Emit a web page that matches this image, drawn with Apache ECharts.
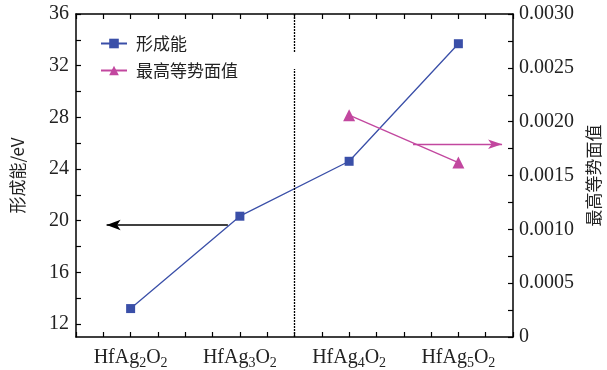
<!DOCTYPE html>
<html>
<head>
<meta charset="utf-8">
<script src="https://cdn.jsdelivr.net/npm/echarts@6/dist/echarts.min.js"></script>
<style>
  html, body { margin: 0; padding: 0; background: #fff; }
  #chart { width: 607px; height: 370px; }
</style>
</head>
<body>
<div id="chart"></div>
<script>
// Compounds along the x axis (subscripts rendered with rich text)
const categories = ['HfAg{s|2}O{s|2}', 'HfAg{s|3}O{s|2}', 'HfAg{s|4}O{s|2}', 'HfAg{s|5}O{s|2}'];
// Formation energy (eV), left axis
const formationEnergy = [13.2, 20.35, 24.6, 33.7];
// Highest equipotential surface value, right axis
const maxEquipotential = [null, null, 0.00206, 0.00162];
// Tick labels
const leftTicks = [12, 16, 20, 24, 28, 32, 36];
const leftMinorTicks = [12, 14, 16, 18, 20, 22, 24, 26, 28, 30, 32, 34, 36];

const serifFont = '"Liberation Serif", "DejaVu Serif", serif';
const cjkFont = '"Noto Sans CJK SC", sans-serif';
const blue = '#3a4fa8';
const pink = '#c2479f';

const chart = echarts.init(document.getElementById('chart'));

const xCommon = {
  type: 'value',
  min: -0.5,
  max: 3.5,
  interval: 0.25,
  splitLine: { show: false },
  axisLine: { onZero: false, lineStyle: { color: '#000', width: 1.5 } },
  axisTick: { inside: true, length: 5, lineStyle: { color: '#000', width: 1.2 } }
};

chart.setOption({
  animation: false,
  grid: { left: 76, right: 94, top: 14, bottom: 33, show: false, containLabel: false, outerBoundsMode: 'none' },
  legend: {
    left: 95,
    top: 30,
    orient: 'vertical',
    itemWidth: 26,
    itemHeight: 12,
    itemGap: 10,
    textStyle: { fontFamily: cjkFont, fontSize: 17, color: '#222', padding: [0, 0, 0, 4] },
    data: ['形成能', '最高等势面值']
  },
  xAxis: [
    Object.assign({}, xCommon, {
      position: 'bottom',
      axisLabel: {
        margin: 9,
        fontFamily: serifFont,
        fontSize: 20,
        color: '#222',
        showMinLabel: true,
        showMaxLabel: true,
        formatter: function (v) {
          const i = Math.round(v);
          if (Math.abs(v - i) > 1e-6 || i < 0 || i >= categories.length) return '';
          return categories[i];
        },
        rich: {
          s: { fontFamily: serifFont, fontSize: 14, color: '#222', padding: [10, 0, 0, 0] }
        }
      }
    }),
    Object.assign({}, xCommon, {
      position: 'top',
      axisLabel: { show: false }
    })
  ],
  yAxis: [
    {
      type: 'value',
      position: 'left',
      min: 11,
      max: 36,
      name: '形成能/eV',
      nameLocation: 'middle',
      nameRotate: 90,
      nameGap: 50,
      nameTextStyle: { fontFamily: cjkFont, fontSize: 17, color: '#222' },
      splitLine: { show: false },
      axisLine: { show: true, onZero: false, lineStyle: { color: '#000', width: 1.5 } },
      axisTick: {
        show: true, inside: true, length: 5,
        customValues: leftMinorTicks,
        lineStyle: { color: '#000', width: 1.2 }
      },
      axisLabel: {
        customValues: leftTicks,
        margin: 7,
        fontFamily: serifFont, fontSize: 20, color: '#222'
      }
    },
    {
      type: 'value',
      position: 'right',
      min: 0,
      max: 0.003,
      interval: 0.0005,
      name: '最高等势面值',
      nameLocation: 'middle',
      nameRotate: 90,
      nameGap: 70,
      nameTextStyle: { fontFamily: cjkFont, fontSize: 17, color: '#222' },
      splitLine: { show: false },
      axisLine: { show: true, onZero: false, lineStyle: { color: '#000', width: 1.5 } },
      axisTick: { show: true, inside: true, length: 5, lineStyle: { color: '#000', width: 1.2 } },
      minorTick: { show: true, splitNumber: 2, length: 5, lineStyle: { color: '#000', width: 1.2 } },
      axisLabel: {
        margin: 6,
        fontFamily: serifFont, fontSize: 20, color: '#222',
        formatter: function (v) { return v === 0 ? '0' : v.toFixed(4); }
      }
    }
  ],
  series: [
    {
      name: '形成能',
      type: 'line',
      xAxisIndex: 0,
      yAxisIndex: 0,
      data: formationEnergy.map((v, i) => [i, v]),
      symbol: 'rect',
      symbolSize: 9,
      itemStyle: { color: blue },
      lineStyle: { color: blue, width: 1.3 },
      z: 3,
      markLine: {
        silent: true,
        animation: false,
        label: { show: false },
        data: [
          // arrow pointing to the left axis
          [
            { coord: [0.89, 19.67], symbol: 'none', lineStyle: { color: '#000', width: 1.5, type: 'solid' } },
            { coord: [-0.22, 19.67], symbol: 'arrow', symbolSize: [8, 14] }
          ],
          // dotted divider, interrupted behind the legend
          [
            { coord: [1.5, 11], symbol: 'none', lineStyle: { color: '#000', width: 1.3, type: [2, 1] } },
            { coord: [1.5, 31.75], symbol: 'none' }
          ],
          [
            { coord: [1.5, 33.05], symbol: 'none', lineStyle: { color: '#000', width: 1.3, type: [2, 1] } },
            { coord: [1.5, 36], symbol: 'none' }
          ]
        ]
      }
    },
    {
      name: '最高等势面值',
      type: 'line',
      xAxisIndex: 0,
      yAxisIndex: 1,
      data: maxEquipotential.map((v, i) => [i, v]),
      connectNulls: false,
      symbol: 'triangle',
      symbolSize: 12,
      itemStyle: { color: pink },
      lineStyle: { color: pink, width: 1.3 },
      z: 3,
      markLine: {
        silent: true,
        animation: false,
        label: { show: false },
        data: [
          // arrow pointing to the right axis
          [
            { coord: [2.585, 0.00179], symbol: 'none', lineStyle: { color: pink, width: 1.3, type: 'solid' } },
            { coord: [3.4, 0.00179], symbol: 'arrow', symbolSize: [7, 14] }
          ]
        ]
      }
    }
  ]
});
</script>
</body>
</html>
